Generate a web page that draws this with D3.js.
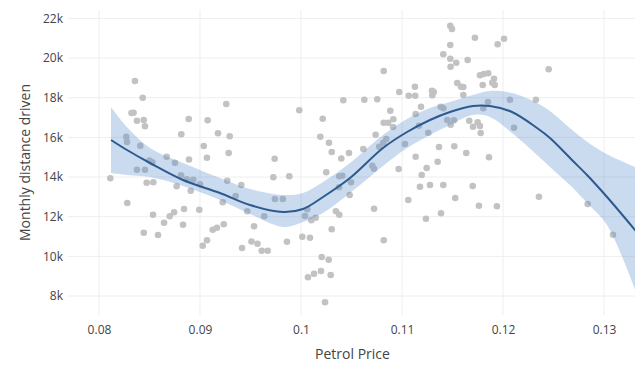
<!DOCTYPE html>
<html>
<head>
<meta charset="utf-8">
<script src="https://cdn.jsdelivr.net/npm/d3@7/dist/d3.min.js"></script>
<style>
html,body{margin:0;padding:0;background:#fff;}
svg{display:block;font-family:"Open Sans",sans-serif;}
</style>
</head>
<body>
<svg id="chart" width="635" height="369"></svg>
<script>
// Scatter data: petrol price vs monthly distance driven
const priceX = [
0.08356,0.08433,0.08342,0.08322,0.08376,0.08443,0.08455,0.08270,0.08277,0.08409,
0.08888,0.08815,0.09076,0.09260,0.09178,0.09294,0.09037,0.09069,0.09284,0.08670,
0.08891,0.08500,0.08528,0.08752,0.08112,0.08376,0.08455,0.08472,0.08538,0.08812,
0.08868,0.08934,0.09000,0.08769,0.08908,0.09270,0.09409,0.09353,0.09225,0.09468,
0.08280,0.08535,0.08700,0.08743,0.08842,0.08993,0.08644,0.08832,0.08443,0.08584,
0.09126,0.09168,0.09235,0.09535,0.09069,0.09027,0.09416,0.09510,0.09569,0.09611,
0.09670,0.09983,0.10215,0.10191,0.10277,0.10304,0.10399,0.10475,0.09739,0.10419,
0.10627,0.10755,0.10819,0.10884,0.10914,0.10819,0.10864,0.10911,0.10739,0.10844,
0.10815,0.10775,0.10617,0.10973,0.11066,0.11131,0.11128,0.11297,0.11314,0.11300,
0.11188,0.11135,0.11383,0.11409,0.11168,0.11260,0.11029,0.11366,0.11135,0.11478,
0.11495,0.11722,0.11478,0.11409,0.11478,0.11537,0.11481,0.11650,0.11947,0.12010,
0.12452,0.11772,0.11809,0.11854,0.11911,0.11894,0.11918,0.11799,0.11547,0.11584,
0.11607,0.11607,0.11851,0.11805,0.12069,0.12326,0.11448,0.11515,0.11482,0.11666,
0.11749,0.11703,0.11772,0.11779,0.12109,0.11518,0.11636,0.11861,0.11353,0.11409,
0.11700,0.11527,0.11762,0.11940,0.11386,0.12356,0.12838,0.13089,0.09726,0.09884,
0.09742,0.09820,0.09636,0.09861,0.10250,0.10379,0.10409,0.10376,0.10495,0.10482,
0.10062,0.10039,0.10102,0.10145,0.10346,0.10379,0.10304,0.10013,0.10089,0.10723,
0.10819,0.10205,0.10274,0.10198,0.10129,0.10069,0.10294,0.10238,0.10706,0.10723,
0.10967,0.11244,0.11195,0.11062,0.11178,0.11277,0.11237
];
const distanceY = [
18845,18002,17246,17230,16842,16877,16560,16035,15768,15581,
16928,16156,16862,17684,16207,16055,15566,14976,15213,15026,
14885,14835,14744,14724,13937,14371,14371,13715,13735,14088,
13886,13866,13634,13533,13311,13816,13599,13044,12726,12272,
12691,12101,12020,12222,12388,12353,11697,11596,11193,11077,
11344,11445,11617,11516,10810,10537,10421,10749,10638,10285,
10285,17367,16943,16035,15732,15263,14935,15213,14925,17871,
17901,17922,19349,17347,16913,16741,16741,16524,16136,15919,
15732,15531,15415,18290,18103,18103,18557,18355,18290,18123,
17548,17180,17548,17468,16590,16237,15667,15516,15026,21634,
21467,21029,20660,20191,19969,19768,19566,19904,20696,20978,
19435,19132,19198,19233,18961,18759,18643,18643,18744,18557,
18542,18138,17785,17468,17901,17901,16877,16862,16640,16842,
16761,16539,16575,16222,16489,15551,15213,15001,14774,13599,
13548,12943,12555,12525,12176,13009,12640,11092,13987,14038,
12893,12893,12020,10739,14239,14038,14068,13483,13735,13094,
12373,12035,11818,11949,12272,12101,11364,10991,10941,12403,
10810,9967,9831,9261,9125,8943,9059,7682,14572,14421,
14406,14456,14103,12842,13513,13599,11899
];

// Smoothed fit with confidence band
const fitX = [0.08119,0.08277,0.08505,0.08832,0.09198,0.09495,0.09822,0.10020,0.10218,0.10485,
  0.10812,0.11050,0.11277,0.11475,0.11703,0.11871,0.12089,0.12337,0.12465,0.12683,0.12832,0.13030,0.13320];
const fitY = [15869,15364,14709,13851,13195,12590,12237,12388,12994,13952,
  15465,16272,16877,17281,17584,17584,17281,16474,15970,14860,14103,12994,11250];
const fitUpper = [17533,16524,15465,14709,13952,13397,13094,13195,13750,14709,
  16121,16928,17483,17785,18138,18340,18240,17740,17330,16380,15780,15150,14480];
const fitLower = [14204,14103,14002,13548,12842,12136,11480,11733,12187,13195,
  14557,15465,16121,16625,17130,17029,16222,15112,14507,13498,12691,11581,8150];

const xTicks = [0.08,0.09,0.1,0.11,0.12,0.13];
const yTicks = [8000,10000,12000,14000,16000,18000,20000,22000];
const xTitle = "Petrol Price";
const yTitle = "Monthly distance driven";

const svg = d3.select("#chart");
const W = 635, H = 369;
const m = {left:70, right:0, top:10, bottom:54};
const pw = W - m.left - m.right, ph = H - m.top - m.bottom;

const x = d3.scaleLinear().domain([0.077129, 0.133069]).range([m.left, m.left + pw]);
const y = d3.scaleLinear().domain([7042, 22426]).range([m.top + ph, m.top]);

svg.append("defs").append("clipPath").attr("id","clip")
  .append("rect").attr("x", m.left).attr("y", m.top).attr("width", pw).attr("height", ph);

// grid
const grid = svg.append("g");
grid.selectAll("line.gx").data(xTicks).join("line")
  .attr("x1", d=>x(d)).attr("x2", d=>x(d)).attr("y1", m.top).attr("y2", m.top+ph)
  .attr("stroke","#eeeeee").attr("stroke-width",1);
grid.selectAll("line.gy").data(yTicks).join("line")
  .attr("x1", m.left-2).attr("x2", m.left+pw).attr("y1", d=>y(d)).attr("y2", d=>y(d))
  .attr("stroke","#eeeeee").attr("stroke-width",1);

// axes labels via d3 axes
const xAxis = d3.axisBottom(x).tickValues(xTicks).tickFormat(d3.format("~g")).tickSize(0).tickPadding(10);
const gx = svg.append("g").attr("transform", `translate(0,${m.top+ph})`).call(xAxis);
gx.select(".domain").remove();
gx.selectAll("text").attr("fill","#444").style("font-size","12px").style("font-family","'Open Sans',sans-serif");

const yAxis = d3.axisLeft(y).tickValues(yTicks).tickFormat(d3.format("~s")).tickSize(0).tickPadding(5);
const gy = svg.append("g").attr("transform", `translate(${m.left-2},0)`).call(yAxis);
gy.select(".domain").remove();
gy.selectAll("text").attr("fill","#444").style("font-size","12px").style("font-family","'Open Sans',sans-serif");

const plot = svg.append("g").attr("clip-path","url(#clip)");

// points
plot.selectAll("circle").data(priceX.map((v,i)=>[v, distanceY[i]])).join("circle")
  .attr("cx", d=>x(d[0])).attr("cy", d=>y(d[1])).attr("r", 3.3)
  .attr("fill","#c2c2c2");

// band
const area = d3.area().x((d,i)=>x(fitX[i])).y0((d,i)=>y(fitLower[i])).y1((d,i)=>y(fitUpper[i])).curve(d3.curveCatmullRom);
plot.append("path").datum(fitX).attr("d", area).attr("fill","#5b8fd0").attr("fill-opacity",0.32);

// line
const line = d3.line().x((d,i)=>x(fitX[i])).y((d,i)=>y(fitY[i])).curve(d3.curveCatmullRom);
plot.append("path").datum(fitX).attr("d", line).attr("fill","none").attr("stroke","#2d5a8e").attr("stroke-width",2);

// titles
svg.append("text").attr("x", m.left + pw/2).attr("y", 359).attr("text-anchor","middle")
  .attr("fill","#444").style("font-size","14px").text(xTitle);
svg.append("text").attr("transform", `translate(30,${m.top+ph/2}) rotate(-90)`).attr("text-anchor","middle")
  .attr("fill","#444").style("font-size","14px").text(yTitle);
</script>
</body>
</html>
